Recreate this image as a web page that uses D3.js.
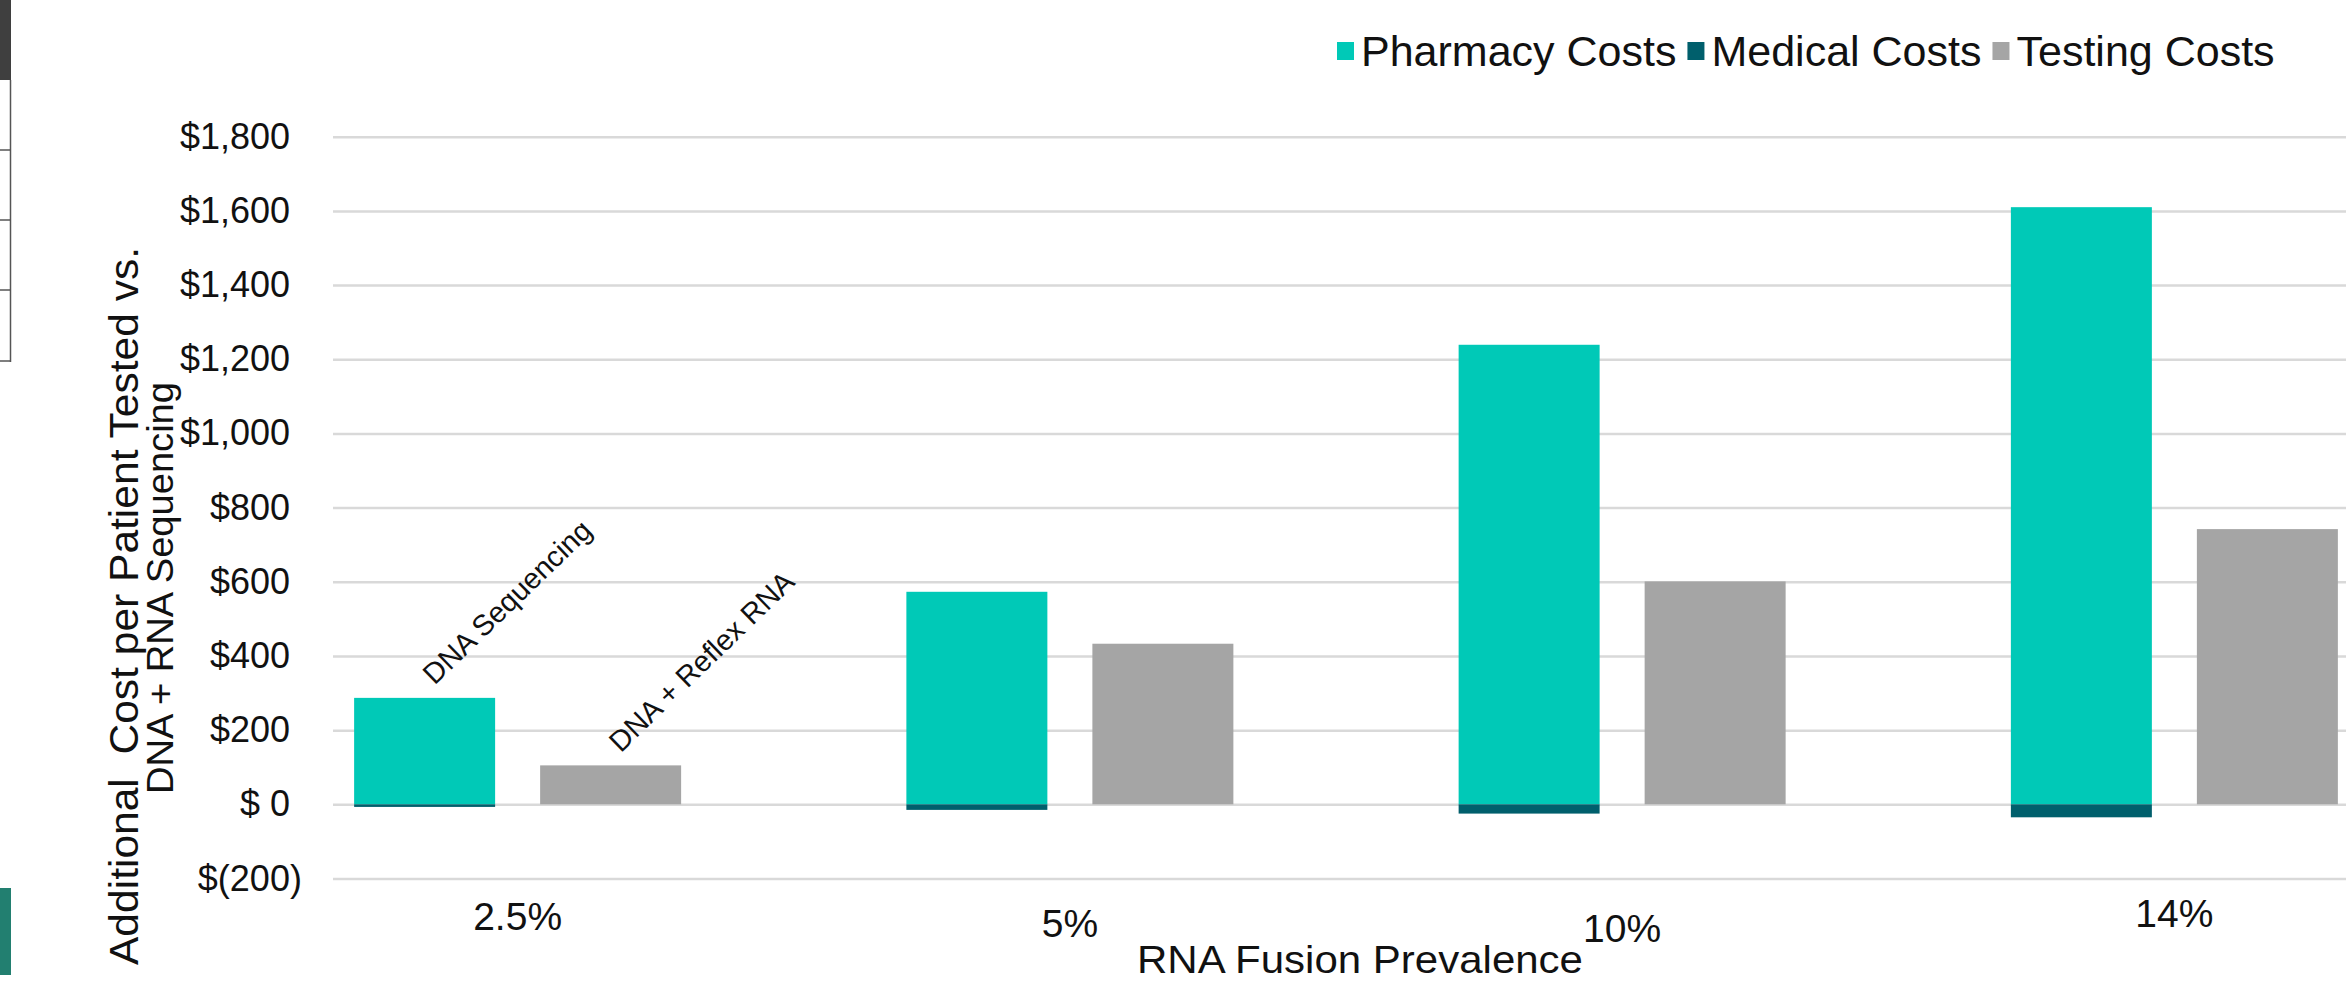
<!DOCTYPE html>
<html>
<head>
<meta charset="utf-8">
<script src="https://cdn.jsdelivr.net/npm/d3@7"></script>
<style>
  html, body { margin: 0; padding: 0; background: #fff; }
  text { font-family: "Liberation Sans", Arial, sans-serif; fill: #111; }
</style>
</head>
<body>
<div id="chart"></div>
<script>
// Data
const categories = ['2.5%', '5%', '10%', '14%'];
const barLabels = ['DNA Sequencing', 'DNA + Reflex RNA'];
const pharmacyCosts = [287, 573, 1239, 1610];   // on the DNA Sequencing bar
const medicalCosts = [-7, -15, -25, -35];        // on the DNA Sequencing bar
const testingCosts = [105, 433, 601, 742];       // on the DNA + Reflex RNA bar
const seriesNames = ['Pharmacy Costs', 'Medical Costs', 'Testing Costs'];
const seriesColors = ['#00c9b7', '#005f6c', '#a5a5a5'];
const yTicks = [-200, 0, 200, 400, 600, 800, 1000, 1200, 1400, 1600, 1800];

// small vertical nudges of the category labels, as in the source image
const tickNudge = { '2.5%': 0, '5%': 7, '10%': 12, '14%': -3 };

const W = 2346, H = 981;
const plotLeft = 333;

const svg = d3.select('#chart')
    .append('svg')
    .attr('width', W)
    .attr('height', H);

svg.append('rect').attr('width', W).attr('height', H).attr('fill', '#fff');

// Scales
const y = d3.scaleLinear().domain([-200, 1800]).range([878.5, 136.7]);
const x = d3.scaleBand().domain(categories).range([241.5, 2450.5]);
const xs = d3.scaleBand().domain(barLabels)
    .range([0, x.bandwidth()])
    .paddingInner(0.242)
    .paddingOuter(0.6055);

// Leftover bits of the slide on the left edge
const edge = svg.append('g');
edge.append('rect').attr('x', 0).attr('y', 0).attr('width', 11).attr('height', 80).attr('fill', '#3f3f3f');
edge.append('line').attr('x1', 10.5).attr('x2', 10.5).attr('y1', 80).attr('y2', 362)
    .attr('stroke', '#555').attr('stroke-width', 1.5);
[150, 220, 290, 361].forEach(v => {
    edge.append('line').attr('x1', 0).attr('x2', 11).attr('y1', v).attr('y2', v)
        .attr('stroke', '#555').attr('stroke-width', 1.5);
});
edge.append('rect').attr('x', 0).attr('y', 888).attr('width', 11).attr('height', 87).attr('fill', '#227f70');

// Gridlines
const grid = svg.append('g')
    .attr('transform', `translate(${plotLeft},0)`)
    .call(d3.axisLeft(y).tickValues(yTicks).tickSize(-(W - plotLeft)).tickFormat(''));
grid.select('.domain').remove();
grid.selectAll('line').attr('stroke', '#d9d9d9').attr('stroke-width', 2.5);

// Y axis labels
const fmt = d3.format(',');
const yAxis = svg.append('g')
    .attr('transform', `translate(${plotLeft},0)`)
    .call(d3.axisLeft(y).tickValues(yTicks).tickSize(0).tickPadding(43)
        .tickFormat(v => v < 0 ? `$(${fmt(-v)})` : v === 0 ? '$ 0' : '$' + fmt(v)));
yAxis.select('.domain').remove();
yAxis.selectAll('text')
    .style('font-size', '36px')
    .attr('fill', '#111')
    .attr('dx', d => d < 0 ? '0.33em' : 0);

// Stacked rows: one per bar
const rows = [];
categories.forEach((c, i) => {
    rows.push({ cat: c, bar: barLabels[0], 'Pharmacy Costs': pharmacyCosts[i], 'Medical Costs': medicalCosts[i], 'Testing Costs': 0 });
    rows.push({ cat: c, bar: barLabels[1], 'Pharmacy Costs': 0, 'Medical Costs': 0, 'Testing Costs': testingCosts[i] });
});

const stacked = d3.stack().keys(seriesNames).offset(d3.stackOffsetDiverging)(rows);

svg.append('g')
    .selectAll('g')
    .data(stacked)
    .enter()
    .append('g')
    .attr('fill', (d, i) => seriesColors[i])
    .selectAll('rect')
    .data(d => d.filter(s => s[1] !== s[0]))
    .enter()
    .append('rect')
    .attr('x', d => x(d.data.cat) + xs(d.data.bar))
    .attr('width', xs.bandwidth())
    .attr('y', d => y(Math.max(d[0], d[1])))
    .attr('height', d => Math.abs(y(d[0]) - y(d[1])));

// Rotated bar names over the first group
const firstTops = [pharmacyCosts[0], testingCosts[0]];
svg.append('g')
    .selectAll('text')
    .data(barLabels)
    .enter()
    .append('text')
    .attr('transform', (d, i) => {
        const cx = x(categories[0]) + xs(d) + xs.bandwidth() / 2 + 10;
        const cy = y(firstTops[i]) - 12;
        return `translate(${cx},${cy}) rotate(-44)`;
    })
    .style('font-size', '29px')
    .text(d => d);

// X axis labels
const xAxis = svg.append('g')
    .attr('transform', `translate(0,${y(-200)})`)
    .call(d3.axisBottom(x).tickSize(0).tickPadding(24));
xAxis.select('.domain').remove();
xAxis.selectAll('text')
    .style('font-size', '39px')
    .attr('fill', '#111')
    .attr('transform', d => `translate(0,${tickNudge[d]})`);

// Axis titles
svg.append('text')
    .attr('x', 1137)
    .attr('y', 973)
    .attr('textLength', 446)
    .attr('lengthAdjust', 'spacingAndGlyphs')
    .style('font-size', '39px')
    .text('RNA Fusion Prevalence');

const yTitle = svg.append('text')
    .attr('transform', 'rotate(-90)')
    .style('white-space', 'pre');
yTitle.append('tspan')
    .attr('x', -965).attr('y', 138)
    .attr('textLength', 718).attr('lengthAdjust', 'spacingAndGlyphs')
    .style('font-size', '40px')
    .text('Additional  Cost per Patient Tested vs.');
yTitle.append('tspan')
    .attr('x', -794).attr('y', 173)
    .attr('textLength', 412).attr('lengthAdjust', 'spacingAndGlyphs')
    .style('font-size', '37px')
    .text('DNA + RNA Sequencing');

// Legend
const legend = svg.append('g').attr('transform', 'translate(1337,51)');
let lx = 0;
seriesNames.forEach((name, i) => {
    const item = legend.append('g').attr('transform', `translate(${lx},0)`);
    item.append('rect').attr('x', 0).attr('y', -9).attr('width', 17).attr('height', 18).attr('fill', seriesColors[i]);
    const t = item.append('text').attr('x', 24).attr('y', 15).style('font-size', '43px').text(name);
    lx += 24 + t.node().getComputedTextLength() + 11;
});
</script>
</body>
</html>
